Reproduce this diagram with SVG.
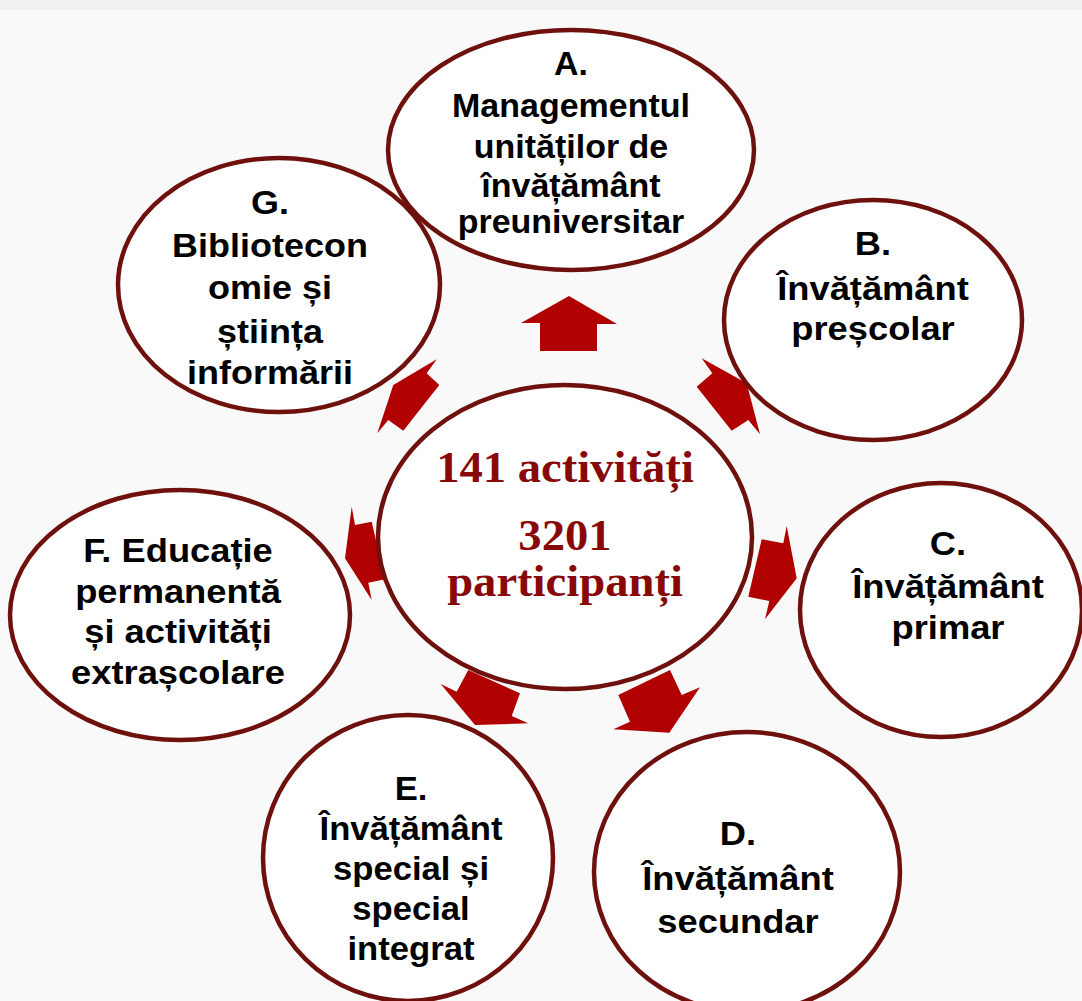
<svg xmlns="http://www.w3.org/2000/svg" width="1082" height="1001" viewBox="0 0 1082 1001">
<style>
.bg{fill:#f9f9f9}
.node{fill:#ffffff;stroke:#6e100c;stroke-width:4.5}
.arr{fill:#b00000}
.t{font-family:"Liberation Sans",Arial,sans-serif;font-weight:bold;font-size:33px;fill:#000;text-anchor:middle}
.c{font-family:"Liberation Serif","Times New Roman",serif;font-weight:bold;font-size:44px;fill:#880808;text-anchor:middle}
</style>
<rect class="bg" x="0" y="0" width="1082" height="1001"/>
<rect x="0" y="0" width="1082" height="10" fill="#f0f0f0"/>
<g id="connectors">
<polygon class="arr" points="569,296 617,324 597,324 597,351 540,351 540,323 521,323"/>
<polygon class="arr" points="701.7,358.3 746.7,383.3 760,434.3 748.3,420 731.7,430.7 696.7,386.7 712.3,373.3"/>
<polygon class="arr" points="786.7,526 796.7,578.3 765,619.3 769.3,601 748.3,596.7 761.7,539.3 783.3,543.3"/>
<polygon class="arr" points="670,670 681.7,695 700,687.3 669.3,732.7 613.3,729.3 630,721.7 618.3,695"/>
<polygon class="arr" points="468.3,670 520,693.3 511.7,716 528.3,723.3 475,725 440.7,684 456.7,691.7"/>
<polygon class="arr" points="351.7,506.7 355,525 371.7,521.7 385,579.3 368.3,582.7 371.7,600 345,558.3"/>
<polygon class="arr" points="436.7,359.3 426.7,373.3 439.3,385 403.3,430.7 388.3,420 377.3,433.3 393.3,385"/>
</g>
<g id="center">
<ellipse class="node" cx="565" cy="537" rx="187" ry="152"/>
<g transform="translate(565,0) scale(1.06,1)">
<text class="c" x="0" y="482">141 activități</text>
<text class="c" x="0" y="550">3201</text>
<text class="c" x="0" y="596">participanți</text>
</g>
</g>
<g id="nodeG">
<ellipse class="node" cx="279" cy="285" rx="161" ry="127"/>
<g transform="translate(270,0) scale(1.09,1)">
<text class="t" x="0" y="214">G.</text>
<text class="t" x="0" y="257">Bibliotecon</text>
<text class="t" x="0" y="299">omie și</text>
<text class="t" x="0" y="343">știința</text>
<text class="t" x="0" y="384">informării</text>
</g>
</g>
<g id="nodeA">
<ellipse class="node" cx="571" cy="150" rx="183" ry="120"/>
<g transform="translate(571,0) scale(1.03,1)">
<text class="t" x="0" y="75">A.</text>
<text class="t" x="0" y="117">Managementul</text>
<text class="t" x="0" y="158">unităților de</text>
<text class="t" x="0" y="197">învățământ</text>
<text class="t" x="0" y="233">preuniversitar</text>
</g>
</g>
<g id="nodeB">
<ellipse class="node" cx="873" cy="320" rx="149" ry="120"/>
<g transform="translate(873,0) scale(1.1,1)">
<text class="t" x="0" y="255">B.</text>
<text class="t" x="0" y="300">Învățământ</text>
<text class="t" x="0" y="340">preșcolar</text>
</g>
</g>
<g id="nodeC">
<ellipse class="node" cx="941" cy="610" rx="141" ry="127"/>
<g transform="translate(948,0) scale(1.1,1)">
<text class="t" x="0" y="555">C.</text>
<text class="t" x="0" y="598">Învățământ</text>
<text class="t" x="0" y="639">primar</text>
</g>
</g>
<g id="nodeD">
<ellipse class="node" cx="747" cy="872" rx="153" ry="140"/>
<g transform="translate(738,0) scale(1.1,1)">
<text class="t" x="0" y="845">D.</text>
<text class="t" x="0" y="890">Învățământ</text>
<text class="t" x="0" y="933">secundar</text>
</g>
</g>
<g id="nodeE">
<ellipse class="node" cx="408" cy="858" rx="145" ry="143"/>
<g transform="translate(411,0) scale(1.05,1)">
<text class="t" x="0" y="800">E.</text>
<text class="t" x="0" y="840">Învățământ</text>
<text class="t" x="0" y="880">special și</text>
<text class="t" x="0" y="920">special</text>
<text class="t" x="0" y="960">integrat</text>
</g>
</g>
<g id="nodeF">
<ellipse class="node" cx="180" cy="615" rx="170" ry="125"/>
<g transform="translate(178,0) scale(1.1,1)">
<text class="t" x="0" y="562">F. Educație</text>
<text class="t" x="0" y="603">permanentă</text>
<text class="t" x="0" y="643">și activități</text>
<text class="t" x="0" y="684">extrașcolare</text>
</g>
</g>
</svg>
